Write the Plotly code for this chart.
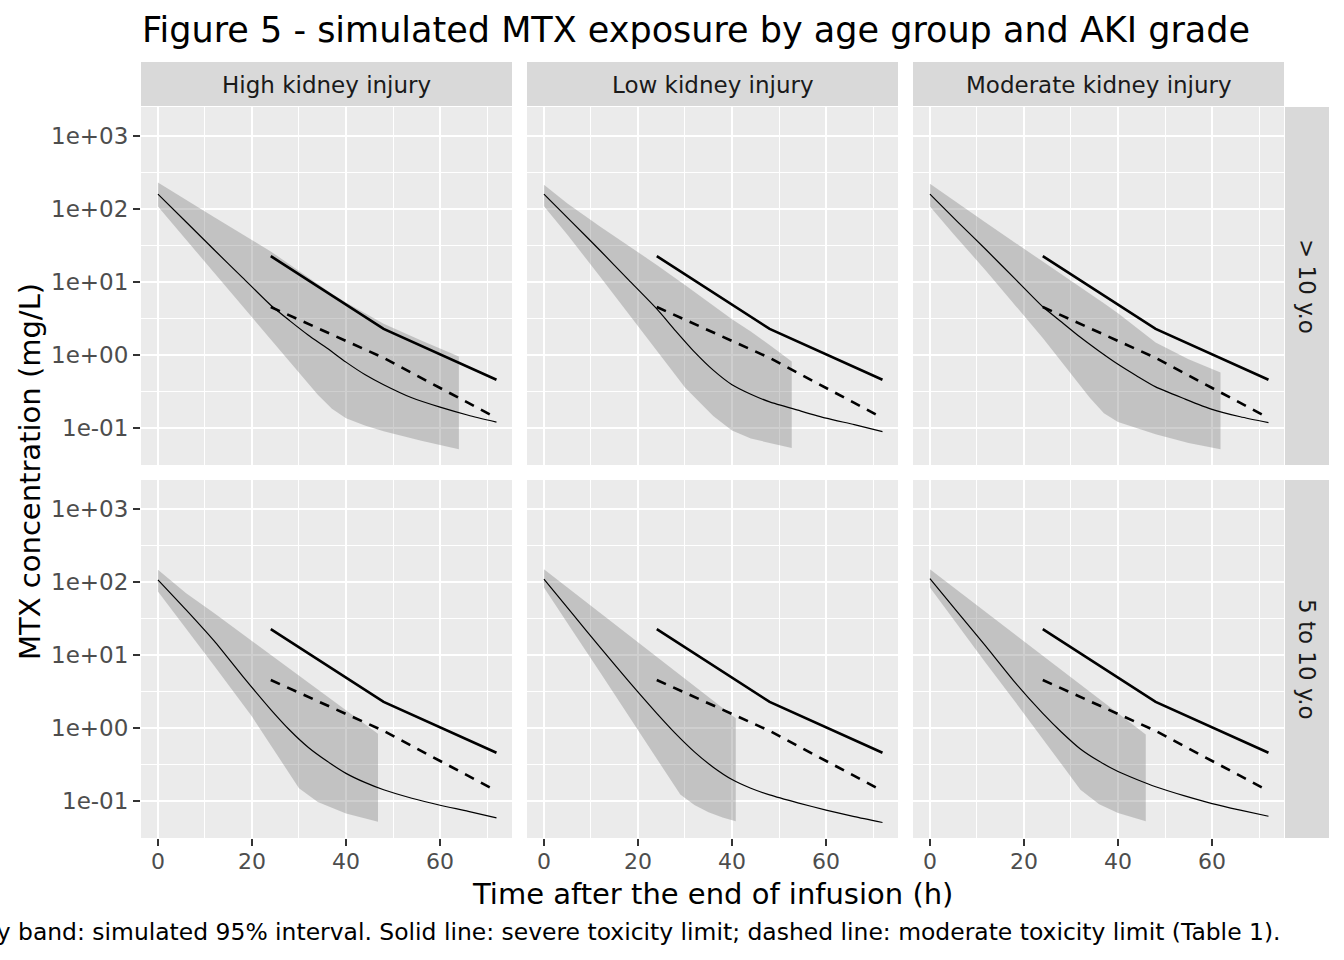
import plotly.graph_objects as go

W, H = 1344, 960

# facet labels
kidney_groups = ["High kidney injury", "Low kidney injury", "Moderate kidney injury"]
age_groups = ["> 10 y.o", "5 to 10 y.o"]

# simulated median (mg/L), common time grid (h)
med_time = [0, 6, 12, 18, 24, 28, 32, 36, 40, 44, 48, 54, 60, 66, 72]
med_high_gt10 = [161, 66.8, 27.5, 11.5, 4.79, 2.95, 1.86, 1.23, 0.794, 0.537, 0.389, 0.257, 0.191, 0.148, 0.119]
med_low_gt10 = [161, 66.1, 26.9, 10.7, 4.27, 2.14, 1.10, 0.617, 0.389, 0.288, 0.226, 0.174, 0.135, 0.110, 0.0883]
med_mod_gt10 = [161, 66.1, 27.5, 11.2, 4.57, 2.82, 1.74, 1.12, 0.741, 0.513, 0.363, 0.251, 0.178, 0.141, 0.117]
med_high_5to10 = [108, 41.7, 15.5, 5.13, 1.78, 0.933, 0.537, 0.347, 0.237, 0.178, 0.141, 0.108, 0.0865, 0.0714, 0.0579]
med_low_5to10 = [110, 37.2, 12.6, 4.37, 1.58, 0.832, 0.468, 0.288, 0.195, 0.148, 0.120, 0.0933, 0.0741, 0.0603, 0.0501]
med_mod_5to10 = [112, 38.0, 12.9, 4.27, 1.58, 0.871, 0.513, 0.347, 0.251, 0.195, 0.155, 0.117, 0.0912, 0.0741, 0.0611]

# simulated 95% interval (mg/L)
band_t_high_gt10 = [0, 5, 12, 24, 34, 37, 40, 44, 48, 56, 64]
band_lo_high_gt10 = [109, 45.7, 13.4, 1.62, 0.282, 0.182, 0.135, 0.107, 0.0891, 0.0661, 0.0505]
band_hi_high_gt10 = [233, 147, 77.8, 26.3, 9.44, 6.92, 5.25, 3.72, 2.67, 1.58, 0.948]

band_t_low_gt10 = [0, 5, 12, 24, 30, 36, 40, 44, 48, 52.7]
band_lo_low_gt10 = [110, 44.7, 11.7, 1.15, 0.355, 0.145, 0.0912, 0.0708, 0.0617, 0.0525]
band_hi_low_gt10 = [217, 120, 57.5, 17.2, 9.12, 4.79, 3.09, 2.09, 1.37, 0.809]

band_t_mod_gt10 = [0, 5, 12, 24, 34, 37, 40, 48, 55, 61.8]
band_lo_mod_gt10 = [109, 45.7, 14.1, 1.70, 0.257, 0.158, 0.120, 0.0813, 0.0617, 0.0505]
band_hi_mod_gt10 = [224, 135, 64.6, 19.1, 7.08, 5.13, 3.72, 1.48, 0.871, 0.571]

band_t_high_5to10 = [0, 6, 12, 20, 24, 30, 34, 40, 46.8]
band_lo_high_5to10 = [74.5, 22.9, 7.08, 1.43, 0.582, 0.148, 0.0955, 0.0668, 0.0514]
band_hi_high_5to10 = [148, 70.8, 37.5, 15.5, 10.1, 5.25, 3.39, 1.75, 0.832]

band_t_low_5to10 = [0, 6, 12, 18, 24, 29, 32, 35, 38, 40.8]
band_lo_low_5to10 = [84.5, 21.9, 5.71, 1.48, 0.380, 0.121, 0.0871, 0.0692, 0.0589, 0.0520]
band_hi_low_5to10 = [151, 75.9, 37.8, 18.9, 9.44, 5.30, 3.75, 2.65, 1.87, 1.35]

band_t_mod_5to10 = [0, 6, 12, 18, 24, 28, 32, 36, 40, 45.9]
band_lo_mod_5to10 = [84.5, 25.1, 7.59, 2.34, 0.708, 0.316, 0.141, 0.0891, 0.0676, 0.0520]
band_hi_mod_5to10 = [151, 76.4, 38.5, 19.5, 9.82, 6.22, 3.94, 2.50, 1.58, 0.809]

# toxicity limits (Table 1), mg/L
limit_time = [24, 48, 72]
severe_limit = [22.7, 2.27, 0.454]
moderate_limit = [4.54, 0.908, 0.136]

x_breaks = [0, 20, 40, 60]
x_minor = [10, 30, 50, 70]
y_breaks = [0.1, 1, 10, 100, 1000]
y_labels = ["1e-01", "1e+00", "1e+01", "1e+02", "1e+03"]
y_minor = [0.0316, 0.316, 3.16, 31.6, 316]

panels = [
    (0, 0, med_high_gt10, band_t_high_gt10, band_lo_high_gt10, band_hi_high_gt10),
    (0, 1, med_low_gt10, band_t_low_gt10, band_lo_low_gt10, band_hi_low_gt10),
    (0, 2, med_mod_gt10, band_t_mod_gt10, band_lo_mod_gt10, band_hi_mod_gt10),
    (1, 0, med_high_5to10, band_t_high_5to10, band_lo_high_5to10, band_hi_high_5to10),
    (1, 1, med_low_5to10, band_t_low_5to10, band_lo_low_5to10, band_hi_low_5to10),
    (1, 2, med_mod_5to10, band_t_mod_5to10, band_lo_mod_5to10, band_hi_mod_5to10),
]

FONT = "DejaVu Sans"
col_px = [(141, 512), (527, 898), (913, 1284)]
row_px = [(107, 465), (480, 838)]


def fx(p):
    return p / W


def fy(p):
    return 1 - p / H


fig = go.Figure()
layout = {}
for i, (r, c, med, bt, blo, bhi) in enumerate(panels):
    n = i + 1
    xa = "x" if n == 1 else f"x{n}"
    ya = "y" if n == 1 else f"y{n}"
    fig.add_trace(go.Scatter(
        x=bt + bt[::-1], y=bhi + blo[::-1], xaxis=xa, yaxis=ya,
        fill="toself", fillcolor="rgba(128,128,128,0.38)",
        line=dict(width=0), mode="lines", hoverinfo="skip", showlegend=False,
    ))
    fig.add_trace(go.Scatter(
        x=med_time, y=med, xaxis=xa, yaxis=ya, mode="lines",
        line=dict(color="black", width=1.2, shape="spline", smoothing=0.6),
        showlegend=False,
    ))
    fig.add_trace(go.Scatter(
        x=limit_time, y=severe_limit, xaxis=xa, yaxis=ya, mode="lines",
        line=dict(color="black", width=2.6), showlegend=False,
    ))
    fig.add_trace(go.Scatter(
        x=limit_time, y=moderate_limit, xaxis=xa, yaxis=ya, mode="lines",
        line=dict(color="black", width=2.6, dash="10px,8px"), showlegend=False,
    ))

    bottom = r == 1
    left = c == 0
    x0, x1 = col_px[c]
    y0, y1 = row_px[r]
    layout["xaxis" if n == 1 else f"xaxis{n}"] = dict(
        domain=[fx(x0), fx(x1)], anchor=ya, range=[-3.6, 75.3],
        tickvals=x_breaks, showticklabels=bottom,
        ticks="outside" if bottom else "", ticklen=7, tickwidth=2, tickcolor="#333333",
        tickfont=dict(family=FONT, size=22, color="#4D4D4D"), ticklabelstandoff=-3,
        showgrid=True, gridcolor="white", gridwidth=2.2, zeroline=False, showline=False,
        minor=dict(tickvals=x_minor, showgrid=True, gridcolor="white", gridwidth=1.1, ticks=""),
    )
    layout["yaxis" if n == 1 else f"yaxis{n}"] = dict(
        domain=[fy(y1), fy(y0)], anchor=xa, type="log", range=[-1.513, 3.404],
        tickvals=y_breaks, ticktext=y_labels, showticklabels=left,
        ticks="outside" if left else "", ticklen=7, tickwidth=2, tickcolor="#333333",
        tickfont=dict(family=FONT, size=23, color="#4D4D4D"),
        showgrid=True, gridcolor="white", gridwidth=2.2, zeroline=False, showline=False,
        minor=dict(tickvals=y_minor, showgrid=True, gridcolor="white", gridwidth=1.1, ticks=""),
    )

shapes = []
annotations = []
# column strips
for c, label in enumerate(kidney_groups):
    x0, x1 = col_px[c]
    shapes.append(dict(type="rect", xref="paper", yref="paper",
                       x0=fx(x0), x1=fx(x1), y0=fy(106), y1=fy(62),
                       fillcolor="#D9D9D9", line=dict(width=0), layer="below"))
    annotations.append(dict(text=label, xref="paper", yref="paper",
                            x=fx((x0 + x1) / 2), y=fy(85), showarrow=False,
                            xanchor="center", yanchor="middle",
                            font=dict(family=FONT, size=23, color="#1A1A1A")))
# row strips
for r, label in enumerate(age_groups):
    y0, y1 = row_px[r]
    shapes.append(dict(type="rect", xref="paper", yref="paper",
                       x0=fx(1285), x1=fx(1329), y0=fy(y1), y1=fy(y0),
                       fillcolor="#D9D9D9", line=dict(width=0), layer="below"))
    annotations.append(dict(text=label, xref="paper", yref="paper",
                            x=fx(1307), y=fy((y0 + y1) / 2), showarrow=False,
                            textangle=90, xanchor="center", yanchor="middle",
                            font=dict(family=FONT, size=23, color="#1A1A1A")))

annotations += [
    dict(text="Figure 5 - simulated MTX exposure by age group and AKI grade",
         xref="paper", yref="paper", x=fx(140), y=fy(30), showarrow=False,
         xanchor="left", yanchor="middle",
         font=dict(family=FONT, size=35, color="black")),
    dict(text="Time after the end of infusion (h)", xref="paper", yref="paper",
         x=fx(712), y=fy(894), showarrow=False, xanchor="center", yanchor="middle",
         font=dict(family=FONT, size=29, color="black")),
    dict(text="MTX concentration (mg/L)", xref="paper", yref="paper",
         x=fx(30), y=fy(472), showarrow=False, textangle=-90,
         xanchor="center", yanchor="middle",
         font=dict(family=FONT, size=29, color="black")),
    dict(text="Grey band: simulated 95% interval. Solid line: severe toxicity limit; "
              "dashed line: moderate toxicity limit (Table 1).",
         xref="paper", yref="paper", x=fx(1283), y=fy(932), showarrow=False,
         xanchor="right", yanchor="middle",
         font=dict(family=FONT, size=23.45, color="black")),
]

fig.update_layout(
    **layout,
    shapes=shapes, annotations=annotations,
    width=W, height=H, margin=dict(l=0, r=0, t=0, b=0),
    paper_bgcolor="white", plot_bgcolor="#EBEBEB",
    font=dict(family=FONT), showlegend=False,
)

fig.write_html("out.html", config={"displayModeBar": False},
               post_script="document.body.style.margin='0';")
